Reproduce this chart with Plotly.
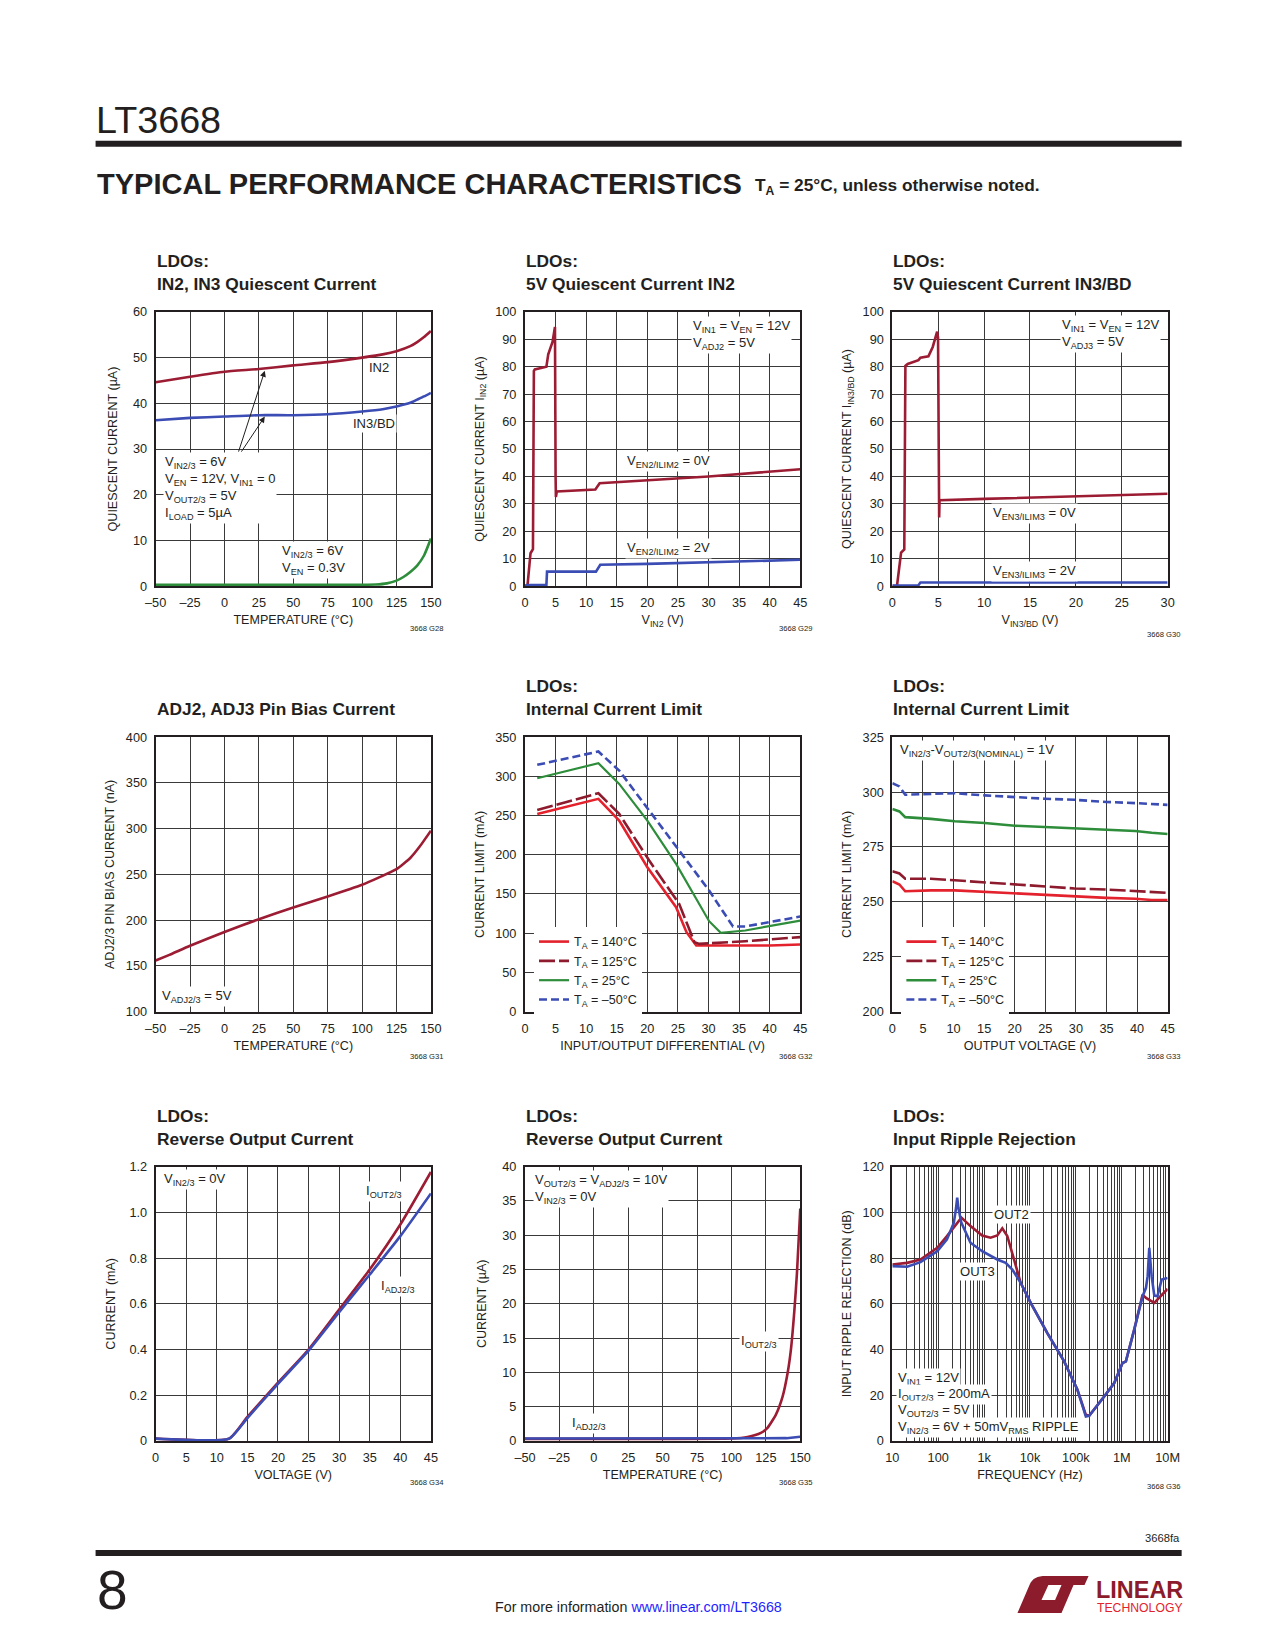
import plotly.graph_objects as go

W, H = 1275, 1650
FONT = "Liberation Sans Narrow, Arial Narrow, Liberation Sans, Arial, sans-serif"
INK = "#231f20"
GRID = "#3a3a3a"
C_RED_D = "#9c1c33"
C_BLUE = "#3b4cb4"
C_GREEN = "#2e8d3b"
C_RED_B = "#e3222d"
C_RED_125 = "#8e1b2d"
C_LOGO = "#8c1c2c"
C_LINK = "#1f1fff"

# ---------------- data ----------------
# G28: IN2, IN3 quiescent current vs temperature
g28_temp = [-50, -25, 0, 25, 50, 75, 100, 115, 125, 135, 140, 145, 150]
g28_in2 = [44.6, 45.8, 46.9, 47.5, 48.3, 49.0, 50.0, 50.7, 51.4, 52.5, 53.4, 54.5, 55.8]
g28_in3 = [36.3, 36.8, 37.1, 37.4, 37.4, 37.6, 38.2, 38.7, 39.3, 40.1, 40.8, 41.5, 42.3]
g28_temp_sd = [-50, 0, 50, 100, 110, 118, 125, 130, 135, 140, 145, 150]
g28_sd = [0.3, 0.3, 0.3, 0.3, 0.35, 0.6, 1.2, 2.0, 3.1, 4.5, 6.7, 10.4]

# G29: 5V quiescent current IN2
g29_vin_en0 = [0, 0.4, 0.9, 1.3, 1.45, 1.6, 3.5, 3.8, 4.5, 4.9, 5.0, 5.05, 5.2, 11.5, 12.2, 20, 30, 45]
g29_iq_en0 = [0, 0, 12, 13.5, 78.5, 79, 80, 84.5, 89, 94.5, 40, 32.5, 34.5, 35.2, 37.5, 38.7, 40.0, 42.6]
g29_vin_en2 = [0, 0.3, 3.5, 3.6, 11.6, 12.3, 20, 30, 45]
g29_iq_en2 = [0, 0.4, 0.5, 5.3, 5.3, 7.8, 8.1, 8.6, 9.6]

# G30: 5V quiescent current IN3/BD
g30_vin_en0 = [0, 0.5, 0.95, 1.3, 1.42, 1.67, 2.84, 3.06, 3.93, 4.4, 4.88, 4.98, 5.1, 5.14, 10, 20, 30]
g30_iq_en0 = [0, 0, 12.2, 13.4, 80.3, 81, 82.4, 83.3, 83.8, 87.2, 92.8, 90.5, 25, 31.3, 31.8, 32.8, 33.7]
g30_vin_en2 = [0, 2.84, 3.06, 30]
g30_iq_en2 = [0.2, 0.3, 1.3, 1.3]

# G31: ADJ pin bias current
g31_temp = [-50, -40, -25, 0, 25, 50, 75, 100, 112, 125, 135, 142, 150]
g31_bias = [155.8, 162, 171.9, 187.0, 201, 213.9, 225.9, 238.7, 246.5, 255.8, 267.9, 280.7, 297.8]

# G32: internal current limit vs input/output differential
g32_x_140 = [2, 12, 15.4, 20, 24.7, 26.4, 28, 36, 40, 45]
g32_y_140 = [252.2, 271.4, 243.7, 184.2, 133.1, 101.2, 84.2, 84.2, 84.2, 85.5]
g32_x_125 = [2, 12, 15.4, 20.3, 25.2, 27.7, 28.5, 36, 45]
g32_y_125 = [257.3, 278.6, 252.2, 192.7, 137.4, 88.5, 86.3, 89.7, 94.9]
g32_x_25 = [2, 12, 15.4, 20, 24.7, 30.1, 32, 36, 45]
g32_y_25 = [297.7, 316.9, 290.5, 243.7, 188.4, 115.3, 100.4, 103.4, 116.1]
g32_x_m50 = [2, 12, 15.4, 20.3, 25.2, 30.1, 34, 36, 45]
g32_y_m50 = [314.8, 331.8, 307.5, 256.5, 205.4, 154.4, 108.5, 108.5, 121.2]

# G33: internal current limit vs output voltage
g33_vout = [0, 1.15, 2.1, 6.3, 10.2, 15.1, 20, 24.9, 29.8, 35, 39.7, 42.4, 45]
g33_140 = [259.4, 257.9, 254.8, 255.2, 255.2, 254.5, 253.8, 253.0, 252.6, 251.8, 251.4, 250.8, 250.8]
g33_125 = [263.9, 262.9, 260.5, 260.5, 259.8, 258.9, 257.9, 257.1, 256.1, 255.6, 254.8, 254.5, 254.1]
g33_25 = [292.3, 291.2, 288.6, 287.8, 286.7, 285.9, 284.7, 284.1, 283.3, 282.6, 282.3, 281.5, 280.9]
g33_m50 = [304.1, 302.6, 298.8, 299.2, 299.5, 298.5, 297.6, 297.0, 296.5, 295.5, 295.0, 294.6, 294.2]

# G34: reverse output current vs voltage
g34_v = [0, 12, 15, 20, 25, 30, 35, 40, 45]
g34_iout = [0.01, 0.01, 0.105, 0.255, 0.40, 0.575, 0.75, 0.947, 1.177]
g34_iadj = [0.01, 0.01, 0.10, 0.25, 0.395, 0.563, 0.728, 0.896, 1.083]

# G35: reverse output current vs temperature
g35_temp = [-50, 0, 50, 100, 111.7, 121.4, 126.2, 132.3, 137.2, 140.8, 143.2, 145.6, 147.6, 150]
g35_iout = [0.3, 0.3, 0.3, 0.35, 0.58, 1.17, 1.9, 3.84, 6.5, 9.9, 13.3, 18.7, 24.5, 33.9]
g35_temp_adj = [-50, 0, 50, 100, 140, 150]
g35_iadj = [0.35, 0.35, 0.35, 0.35, 0.4, 0.6]

# G36: input ripple rejection
g36_f_out2 = [10, 21, 41, 95, 155, 250, 320, 505, 906, 1380, 1935, 2490, 3200, 4480, 6260, 10350,
              23900, 55500, 108000, 165000, 195000, 414000, 685000, 1040000, 1230000, 1870000,
              2850000, 3370000, 5130000, 7000000, 10000000]
g36_out2 = [77.2, 77.9, 79.4, 84.5, 89.6, 95.3, 97.7, 94.0, 89.9, 88.9, 89.9, 93.0, 89.6, 79.4, 69.2, 60.4,
            47.2, 34.8, 22.4, 11.4, 11.0, 19.4, 25.3, 34.1, 34.8, 48.7,
            64.0, 62.6, 60.4, 63.3, 66.5]
g36_f_out3 = [10, 21, 41, 95, 155, 219, 245, 259, 275, 318, 505, 906, 1935, 2950, 4120, 6260, 10350,
              23900, 55500, 108000, 165000, 195000, 414000, 685000, 1040000, 1230000, 1870000,
              2850000, 3370000, 3670000, 3980000, 4480000, 5130000, 6000000, 7400000, 10000000]
g36_out3 = [76.5, 76.2, 78.2, 83.0, 88.2, 95.5, 102.0, 106.4, 102.0, 95.5, 86.7, 83.0, 79.4, 77.9, 75.0, 69.2, 60.4,
            47.2, 34.8, 22.4, 10.7, 11.0, 19.4, 25.3, 34.1, 34.8, 48.7,
            63.3, 67.0, 72.1, 84.5, 72.1, 63.6, 63.3, 70.6, 71.3]

# tick labels
temp_ticks = [-50, -25, 0, 25, 50, 75, 100, 125, 150]
temp_ticktext = ["–50", "–25", "0", "25", "50", "75", "100", "125", "150"]
v45_ticks = [0, 5, 10, 15, 20, 25, 30, 35, 40, 45]
v30_ticks = [0, 5, 10, 15, 20, 25, 30]
iq60_ticks = [0, 10, 20, 30, 40, 50, 60]
iq100_ticks = [0, 10, 20, 30, 40, 50, 60, 70, 80, 90, 100]
bias_ticks = [100, 150, 200, 250, 300, 350, 400]
ilim350_ticks = [0, 50, 100, 150, 200, 250, 300, 350]
ilim325_ticks = [200, 225, 250, 275, 300, 325]
ma_ticks = [0, 0.2, 0.4, 0.6, 0.8, 1.0, 1.2]
ma_ticktext = ["0", "0.2", "0.4", "0.6", "0.8", "1.0", "1.2"]
ua40_ticks = [0, 5, 10, 15, 20, 25, 30, 35, 40]
freq_ticks = [10, 100, 1000, 10000, 100000, 1000000, 10000000]
freq_ticktext = ["10", "100", "1k", "10k", "100k", "1M", "10M"]
db_ticks = [0, 20, 40, 60, 80, 100, 120]

# ---------------- layout helpers ----------------
# The photographed page maps figure pixels to picture pixels as p = O + S * f;
# positions below are given in picture pixels and converted back with fx / fy.
SX, OX, SY, OY = 0.981, 10.5, 0.990, 8.4
FS = 1 / SX


def fx(x):
    return (x - OX) / SX


def fy(y):
    return (y - OY) / SY


TICK_SZ = 12.5 * FS
TITLE_SZ = 12.3 * FS
NOTE_SZ = 12.8 * FS

BOX = {1: (155, 430, 312, 586), 2: (524, 799, 312, 586), 3: (891, 1166, 312, 586),
       4: (155, 430, 737, 1011), 5: (524, 799, 737, 1011), 6: (891, 1166, 737, 1011),
       7: (155, 430, 1166, 1440), 8: (524, 799, 1166, 1440), 9: (891, 1166, 1166, 1440)}

fig = go.Figure()
axes = {}
ann = []
shapes = []


def aid(i):
    return "" if i == 1 else str(i)


def line(i, x, y, color, dash="solid", name=None, legend=None, shape="linear", width=2.6):
    fig.add_trace(go.Scatter(
        x=x, y=y, mode="lines", name=name,
        line=dict(color=color, width=width, dash=dash, shape=shape, smoothing=0.5),
        xaxis="x" + aid(i), yaxis="y" + aid(i),
        showlegend=legend is not None, legend=legend if legend else "legend",
        hoverinfo="skip"))


def set_axes(i, xr, xtv, xtt, xtitle, yr, ytv, ytt, ytitle, ystand, xtype="linear", xminor=None):
    l, r, t, b = BOX[i]
    common = dict(showgrid=True, gridcolor=GRID, gridwidth=1.1, showline=True, mirror=True,
                  linecolor=INK, linewidth=2, ticks="", zeroline=False, fixedrange=True,
                  tickfont=dict(family=FONT, size=TICK_SZ, color=INK), ticklabelstandoff=4)
    xa = dict(common, domain=[fx(l) / W, fx(r) / W], range=xr, type=xtype, tickmode="array",
              tickvals=xtv, ticktext=xtt, anchor="y" + aid(i),
              title=dict(text=xtitle, font=dict(family=FONT, size=TITLE_SZ, color=INK), standoff=6))
    if xminor:
        xa["minor"] = xminor
    ya = dict(common, domain=[1 - fy(b) / H, 1 - fy(t) / H], range=yr, tickmode="array",
              tickvals=ytv, ticktext=ytt, anchor="x" + aid(i),
              title=dict(text=ytitle, font=dict(family=FONT, size=TITLE_SZ, color=INK), standoff=ystand))
    axes["xaxis" + aid(i)] = xa
    axes["yaxis" + aid(i)] = ya


def note(i, x, y, text, xanchor="left", yanchor="middle", size=NOTE_SZ, bg="white"):
    ann.append(dict(xref="x" + aid(i), yref="y" + aid(i), x=x, y=y, text=text, showarrow=False,
                    xanchor=xanchor, yanchor=yanchor, align="left", bgcolor=bg, borderpad=1,
                    font=dict(family=FONT, size=size, color=INK)))


def arrow(i, x_tail, y_tail, x_head, y_head):
    ann.append(dict(xref="x" + aid(i), yref="y" + aid(i), axref="x" + aid(i), ayref="y" + aid(i),
                    x=x_head, y=y_head, ax=x_tail, ay=y_tail, text="", showarrow=True,
                    arrowhead=2, arrowsize=1.2, arrowwidth=1, arrowcolor=INK))


def page_text(x, y, text, size, xanchor="left", yanchor="middle", color=INK, family=FONT):
    ann.append(dict(xref="paper", yref="paper", x=fx(x) / W, y=1 - fy(y) / H, text=text,
                    showarrow=False, xanchor=xanchor, yanchor=yanchor, align="left",
                    font=dict(family=family, size=size * FS, color=color)))


def page_rect(x0, y0, x1, y1, color=INK):
    shapes.append(dict(type="rect", xref="paper", yref="paper", x0=fx(x0) / W, x1=fx(x1) / W,
                       y0=1 - fy(y1) / H, y1=1 - fy(y0) / H, fillcolor=color, line=dict(width=0)))


def page_path(cmds, color):
    parts = []
    for c, pts in cmds:
        coords = " ".join(f"{fx(px) / W:.5f},{1 - fy(py) / H:.5f}" for px, py in pts)
        parts.append(f"{c}{coords}")
    shapes.append(dict(type="path", xref="paper", yref="paper", path=" ".join(parts) + " Z",
                       fillcolor=color, line=dict(width=0)))


def titles(i, lines):
    l = BOX[i][0]
    ys = [BOX[i][2] - 51, BOX[i][2] - 28] if len(lines) == 2 else [BOX[i][2] - 28]
    for yy, tx in zip(ys, lines):
        page_text(l - 1, yy, f"<b>{tx}</b>", 17)


def caption(i, text, dy=42):
    r, b = BOX[i][1], BOX[i][3]
    page_text(r - 4, b + dy, text, 7.5, xanchor="center")


# ---------------- G28 ----------------
set_axes(1, [-50, 150], temp_ticks, temp_ticktext, "TEMPERATURE (°C)",
         [0, 60], iq60_ticks, [str(v) for v in iq60_ticks], "QUIESCENT CURRENT (µA)", 13)
line(1, g28_temp, g28_in2, C_RED_D, shape="spline")
line(1, g28_temp, g28_in3, C_BLUE, shape="spline")
line(1, g28_temp_sd, g28_sd, C_GREEN, shape="spline")
note(1, 103.7, 47.8, "IN2")
note(1, 92.3, 35.5, "IN3/BD")
note(1, -44.5, 21.4, "V<sub>IN2/3</sub> = 6V<br>V<sub>EN</sub> = 12V, V<sub>IN1</sub> = 0<br>"
                     "V<sub>OUT2/3</sub> = 5V<br>I<sub>LOAD</sub> = 5µA")
note(1, 40.5, 5.7, "V<sub>IN2/3</sub> = 6V<br>V<sub>EN</sub> = 0.3V")
arrow(1, 9.9, 29.1, 29.3, 47.1)
arrow(1, 11.6, 29.1, 29.3, 37.1)
titles(1, ["LDOs:", "IN2, IN3 Quiescent Current"])
caption(1, "3668 G28")

# ---------------- G29 ----------------
set_axes(2, [0, 45], v45_ticks, [str(v) for v in v45_ticks], "V<sub>IN2</sub> (V)",
         [0, 100], iq100_ticks, [str(v) for v in iq100_ticks], "QUIESCENT CURRENT I<sub>IN2</sub> (µA)", 8)
line(2, g29_vin_en0, g29_iq_en0, C_RED_D)
line(2, g29_vin_en2, g29_iq_en2, C_BLUE)
note(2, 27.2, 91.5, "V<sub>IN1</sub> = V<sub>EN</sub> = 12V<br>V<sub>ADJ2</sub> = 5V")
note(2, 16.3, 45.5, "V<sub>EN2/ILIM2</sub> = 0V")
note(2, 16.3, 13.6, "V<sub>EN2/ILIM2</sub> = 2V")
titles(2, ["LDOs:", "5V Quiescent Current IN2"])
caption(2, "3668 G29")

# ---------------- G30 ----------------
set_axes(3, [0, 30], v30_ticks, [str(v) for v in v30_ticks], "V<sub>IN3/BD</sub> (V)",
         [0, 100], iq100_ticks, [str(v) for v in iq100_ticks], "QUIESCENT CURRENT I<sub>IN3/BD</sub> (µA)", 8)
line(3, g30_vin_en0, g30_iq_en0, C_RED_D)
line(3, g30_vin_en2, g30_iq_en2, C_BLUE)
note(3, 18.3, 91.8, "V<sub>IN1</sub> = V<sub>EN</sub> = 12V<br>V<sub>ADJ3</sub> = 5V")
note(3, 10.8, 26.4, "V<sub>EN3/ILIM3</sub> = 0V")
note(3, 10.8, 5.5, "V<sub>EN3/ILIM3</sub> = 2V")
titles(3, ["LDOs:", "5V Quiescent Current IN3/BD"])
caption(3, "3668 G30", dy=48)

# ---------------- G31 ----------------
set_axes(4, [-50, 150], temp_ticks, temp_ticktext, "TEMPERATURE (°C)",
         [100, 400], bias_ticks, [str(v) for v in bias_ticks], "ADJ2/3 PIN BIAS CURRENT (nA)", 8)
line(4, g31_temp, g31_bias, C_RED_D, shape="spline")
note(4, -46.5, 116.4, "V<sub>ADJ2/3</sub> = 5V")
titles(4, ["ADJ2, ADJ3 Pin Bias Current"])
caption(4, "3668 G31", dy=45)

# ---------------- G32 ----------------
set_axes(5, [0, 45], v45_ticks, [str(v) for v in v45_ticks], "INPUT/OUTPUT DIFFERENTIAL (V)",
         [0, 350], ilim350_ticks, [str(v) for v in ilim350_ticks], "CURRENT LIMIT (mA)", 8)
line(5, g32_x_140, g32_y_140, C_RED_B, name="T<sub>A</sub> = 140°C", legend="legend")
line(5, g32_x_125, g32_y_125, C_RED_125, dash="16px,4px", name="T<sub>A</sub> = 125°C", legend="legend")
line(5, g32_x_25, g32_y_25, C_GREEN, name="T<sub>A</sub> = 25°C", legend="legend", width=2.2)
line(5, g32_x_m50, g32_y_m50, C_BLUE, dash="8px,4px", name="T<sub>A</sub> = –50°C", legend="legend")
titles(5, ["LDOs:", "Internal Current Limit"])
caption(5, "3668 G32", dy=45)

# ---------------- G33 ----------------
set_axes(6, [0, 45], v45_ticks, [str(v) for v in v45_ticks], "OUTPUT VOLTAGE (V)",
         [200, 325], ilim325_ticks, [str(v) for v in ilim325_ticks], "CURRENT LIMIT (mA)", 8)
line(6, g33_vout, g33_140, C_RED_B, name="T<sub>A</sub> = 140°C", legend="legend2")
line(6, g33_vout, g33_125, C_RED_125, dash="16px,4px", name="T<sub>A</sub> = 125°C", legend="legend2")
line(6, g33_vout, g33_25, C_GREEN, name="T<sub>A</sub> = 25°C", legend="legend2")
line(6, g33_vout, g33_m50, C_BLUE, dash="8px,4px", name="T<sub>A</sub> = –50°C", legend="legend2")
note(6, 1.0, 318.8, "V<sub>IN2/3</sub>-V<sub>OUT2/3(NOMINAL)</sub> = 1V")
titles(6, ["LDOs:", "Internal Current Limit"])
caption(6, "3668 G33", dy=45)

# ---------------- G34 ----------------
set_axes(7, [0, 45], v45_ticks, [str(v) for v in v45_ticks], "VOLTAGE (V)",
         [0, 1.2], ma_ticks, ma_ticktext, "CURRENT (mA)", 11)
line(7, g34_v, g34_iout, C_RED_D, shape="spline")
line(7, g34_v, g34_iadj, C_BLUE, shape="spline")
note(7, 1.0, 1.145, "V<sub>IN2/3</sub> = 0V")
note(7, 34.0, 1.093, "I<sub>OUT2/3</sub>")
note(7, 36.5, 0.677, "I<sub>ADJ2/3</sub>")
titles(7, ["LDOs:", "Reverse Output Current"])
caption(7, "3668 G34", dy=42)

# ---------------- G35 ----------------
set_axes(8, [-50, 150], temp_ticks, temp_ticktext, "TEMPERATURE (°C)",
         [0, 40], ua40_ticks, [str(v) for v in ua40_ticks], "CURRENT (µA)", 13)
line(8, g35_temp, g35_iout, C_RED_D, shape="spline")
line(8, g35_temp_adj, g35_iadj, C_BLUE)
note(8, -44.0, 36.8, "V<sub>OUT2/3</sub> = V<sub>ADJ2/3</sub> = 10V<br>V<sub>IN2/3</sub> = 0V")
note(8, 105.3, 14.5, "I<sub>OUT2/3</sub>")
note(8, -17.0, 2.6, "I<sub>ADJ2/3</sub>")
titles(8, ["LDOs:", "Reverse Output Current"])
caption(8, "3668 G35", dy=42)

# ---------------- G36 ----------------
minor_freqs = [m * d for d in freq_ticks[:-1] for m in range(2, 10)]
set_axes(9, [1, 7], freq_ticks, freq_ticktext, "FREQUENCY (Hz)",
         [0, 120], db_ticks, [str(v) for v in db_ticks], "INPUT RIPPLE REJECTION (dB)", 8,
         xtype="log", xminor=dict(tickmode="array", tickvals=minor_freqs, showgrid=True,
                                  gridcolor=GRID, gridwidth=0.9, ticks=""))
line(9, g36_f_out2, g36_out2, C_RED_D)
line(9, g36_f_out3, g36_out3, C_BLUE)
note(9, 3.17, 99.1, "OUT2")
note(9, 2.44, 74.3, "OUT3")
g36_cond = ["V<sub>IN1</sub> = 12V", "I<sub>OUT2/3</sub> = 200mA", "V<sub>OUT2/3</sub> = 5V",
            "V<sub>IN2/3</sub> = 6V + 50mV<sub>RMS</sub> RIPPLE"]
for k, txt in enumerate(g36_cond):
    note(9, 1.07, 27.5 - 7.15 * k, txt)
titles(9, ["LDOs:", "Input Ripple Rejection"])
caption(9, "3668 G36", dy=46)

# ---------------- page furniture ----------------
page_text(93, 120, "LT3668", 37)
page_rect(95, 141, 1180, 147)
page_text(94, 184, "<b>TYPICAL PERFORMANCE CHARACTERISTICS</b>", 28.5)
page_text(752, 187, "<b>T<sub>A</sub> = 25°C, unless otherwise noted.</b>", 17)
page_text(1180, 1537, "3668fa", 11, xanchor="right")
page_rect(95, 1549, 1180, 1555)
page_text(94, 1589, "8", 54)
page_text(637, 1606, f"For more information <span style='color:{C_LINK}'>www.linear.com/LT3668</span>",
          14, xanchor="center")
page_path([("M", [(1016, 1612)]), ("L", [(1028, 1584)]),
           ("C", [(1031, 1577), (1036, 1575), (1044, 1575)]), ("L", [(1051, 1575)]),
           ("L", [(1040, 1599)]), ("L", [(1064, 1599)]), ("L", [(1058, 1612)])], C_LOGO)
page_path([("M", [(1049, 1575)]), ("L", [(1087, 1575)]), ("L", [(1083, 1584)]),
           ("L", [(1072, 1584)]), ("L", [(1060, 1612)]), ("L", [(1048, 1612)]),
           ("L", [(1060, 1584)]), ("L", [(1045, 1584)])], C_LOGO)
page_text(1092, 1589, "<b>LINEAR</b>", 23, color=C_LOGO)
page_text(1093, 1607, "TECHNOLOGY", 12, color=C_RED_B)

legend_common = dict(xanchor="left", yanchor="top", bgcolor="white", borderwidth=0,
                     font=dict(family=FONT, size=12.3 * FS, color=INK), tracegroupgap=0, itemwidth=30,
                     orientation="v")

fig.update_layout(
    width=W, height=H, margin=dict(l=0, r=0, t=0, b=0),
    paper_bgcolor="white", plot_bgcolor="white",
    font=dict(family=FONT, color=INK),
    annotations=ann, shapes=shapes,
    legend=dict(legend_common, x=fx(533) / W, y=1 - fy(926.5) / H),
    legend2=dict(legend_common, x=fx(900) / W, y=1 - fy(926.5) / H),
    **axes,
)

fig.write_html("out.html", config={"displayModeBar": False},
               post_script="document.body.style.margin='0px';document.body.style.overflow='hidden';")
